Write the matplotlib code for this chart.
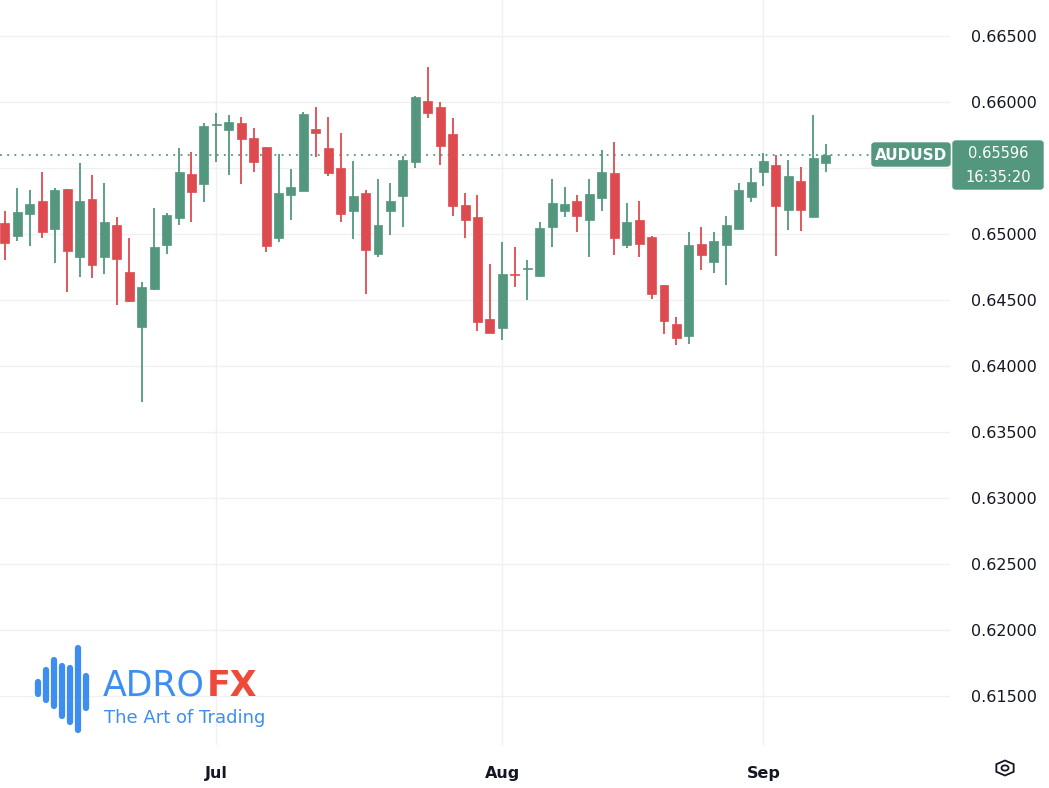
import matplotlib
matplotlib.use("Agg")
import matplotlib.pyplot as plt
from matplotlib.patches import FancyBboxPatch, RegularPolygon, Circle

opens = [0.65086,0.64987,0.65152,0.65250,0.65038,0.65339,0.64828,0.65267,0.64828,0.65066,0.64710,0.64293,0.64581,0.64914,0.65121,0.65457,0.65376,
 0.65826,0.65786,0.65843,0.65725,0.65661,0.64970,0.65295,0.65326,0.65798,0.65649,0.65500,0.65172,0.65308,0.64848,0.65172,0.65288,0.65545,0.66008,
 0.65960,0.65758,0.65217,0.65131,0.64353,0.64290,0.64697,0.64735,0.64684,0.65051,0.65174,0.65250,0.65106,0.65270,0.65462,
 0.64917,0.65107,0.64980,0.64611,0.64315,0.64225,0.64927,0.64790,0.64914,0.65040,0.65280,0.65467,0.65523,0.65182,0.65401,0.65131,0.65536]
closes = [0.64930,0.65170,0.65230,0.65013,0.65333,0.64871,0.65250,0.64765,0.65089,0.64808,0.64495,0.64597,0.64901,0.65142,0.65472,0.65316,0.65820,
 0.65831,0.65848,0.65720,0.65545,0.64909,0.65313,0.65354,0.65907,0.65765,0.65462,0.65149,0.65290,0.64881,0.65068,0.65253,0.65558,0.66040,0.65914,
 0.65667,0.65214,0.65106,0.64335,0.64247,0.64694,0.64689,0.64742,0.65043,0.65237,0.65227,0.65134,0.65301,0.65467,0.64967,
 0.65089,0.64922,0.64545,0.64338,0.64212,0.64919,0.64839,0.64945,0.65066,0.65331,0.65396,0.65556,0.65212,0.65442,0.65182,0.65574,0.65596]
highs = [0.65177,0.65351,0.65333,0.65470,0.65351,0.65343,0.65536,0.65449,0.65384,0.65127,0.64967,0.64639,0.65199,0.65157,0.65649,0.65624,0.65843,
 0.65914,0.65899,0.65886,0.65803,0.65661,0.65606,0.65492,0.65926,0.65964,0.65886,0.65765,0.65556,0.65333,0.65416,0.65386,0.65593,0.66045,0.66263,
 0.66000,0.65876,0.65310,0.65295,0.64771,0.64942,0.64904,0.64805,0.65093,0.65416,0.65354,0.65295,0.65416,0.65636,0.65699,
 0.65235,0.65250,0.64985,0.64611,0.64373,0.65017,0.65051,0.65017,0.65136,0.65384,0.65498,0.65611,0.65600,0.65558,0.65508,0.65902,0.65684]
lows = [0.64803,0.64949,0.64909,0.64972,0.64778,0.64563,0.64672,0.64664,0.64697,0.64464,0.64483,0.63725,0.64576,0.64848,0.65068,0.65089,0.65240,
 0.65548,0.65447,0.65381,0.65472,0.64866,0.64939,0.65106,0.65323,0.65581,0.65442,0.65089,0.64964,0.64548,0.64825,0.64990,0.65051,0.65498,0.65876,
 0.65523,0.65138,0.64972,0.64265,0.64247,0.64194,0.64601,0.64500,0.64672,0.64904,0.65126,0.65017,0.64825,0.65174,0.64839,
 0.64896,0.64828,0.64508,0.64240,0.64159,0.64167,0.64727,0.64705,0.64616,0.65040,0.65240,0.65364,0.64833,0.65030,0.65023,0.65131,0.65472]
month_labels = ["Jul", "Aug", "Sep"]
month_index = [17, 40, 61]
y_ticks = [0.615, 0.620, 0.625, 0.630, 0.635, 0.640, 0.645, 0.650, 0.655, 0.660, 0.665]
symbol = "AUDUSD"
last_price = 0.65596
countdown = "16:35:20"

GREEN = "#52977e"
RED = "#dd4b50"
W, H = 1049, 788
fig = plt.figure(figsize=(W/100, H/100), dpi=100)
ax = fig.add_axes([0, 43/H, 950/W, 745/H])
ax.set_xlim(-0.4, 76.0)
ax.set_ylim(0.61129, 0.66773)

for v in y_ticks:
    ax.axhline(v, color="#f0f0f0", lw=1, zorder=0)
for i in month_index:
    ax.axvline(i, color="#f0f0f0", lw=1, zorder=0)

for i, (o, h, l, c) in enumerate(zip(opens, highs, lows, closes)):
    col = GREEN if c >= o else RED
    ax.vlines(i, l, h, color=col, lw=1.3, zorder=2)
    bot = min(o, c); ht = max(abs(c - o), 0.00003)
    ax.bar(i, ht, bottom=bot, width=0.72, color=col, edgecolor=col, lw=0.5, zorder=3)

ax.axhline(last_price, color=GREEN, lw=1.3, ls=(0, (1, 3)), zorder=1)

for s in ax.spines.values():
    s.set_visible(False)
ax.set_yticks(y_ticks)
ax.yaxis.tick_right()
# the 0.65500 label is hidden behind the price box in the reference
ax.set_yticklabels(["" if abs(v - 0.655) < 1e-9 else f"{v:.5f}" for v in y_ticks], fontsize=11.5, color="#131722")
ax.tick_params(axis="y", length=0, pad=15)
ax.set_xticks(month_index)
ax.set_xticklabels(month_labels, fontsize=11.5, color="#131722", weight="bold")
ax.tick_params(axis="x", length=0, pad=15)

def fx(x): return x / W
def fy(y): return 1 - y / H

# price labels
fig.patches.append(FancyBboxPatch((fx(872), fy(166)), 78/W, 23/H, boxstyle="round,pad=0,rounding_size=0.003",
                                  transform=fig.transFigure, color=GREEN))
fig.text(fx(911), fy(155), symbol, ha="center", va="center", fontsize=11, color="white", weight="bold")
fig.patches.append(FancyBboxPatch((fx(953), fy(189)), 90/W, 48/H, boxstyle="round,pad=0,rounding_size=0.003",
                                  transform=fig.transFigure, color=GREEN))
fig.text(fx(998), fy(154), f"{last_price:.5f}", ha="center", va="center", fontsize=10.5, color="white")
fig.text(fx(998), fy(178), countdown, ha="center", va="center", fontsize=10.5, color="white")

# settings icon
fig.patches.append(RegularPolygon((fx(1005), fy(768)), 6, radius=10/W, orientation=0,
                                  transform=fig.transFigure, fill=False, ec="#131722", lw=1.3))
fig.patches.append(Circle((fx(1005), fy(768)), 3.5/W, transform=fig.transFigure, fill=False, ec="#131722", lw=1.3))

# logo
BLUE = "#3d8ef0"
bars = [(38, 682, 694), (46, 670, 700), (54, 660, 706), (62, 666, 716), (70, 668, 722), (78, 648, 730), (86, 676, 708)]
for x, y0, y1 in bars:
    fig.lines.append(plt.Line2D([fx(x), fx(x)], [fy(y0), fy(y1)], transform=fig.transFigure,
                                color=BLUE, lw=4.5, solid_capstyle="round"))
fig.text(fx(103), fy(686), "ADRO", fontsize=25, color=BLUE, va="center", ha="left")
fig.text(fx(207), fy(686), "FX", fontsize=25, color="#ee4a3a", va="center", ha="left", weight="bold")
fig.text(fx(104), fy(718), "The Art of Trading", fontsize=13, color=BLUE, va="center", ha="left")

fig.savefig("out.png", dpi=100, facecolor="white")
